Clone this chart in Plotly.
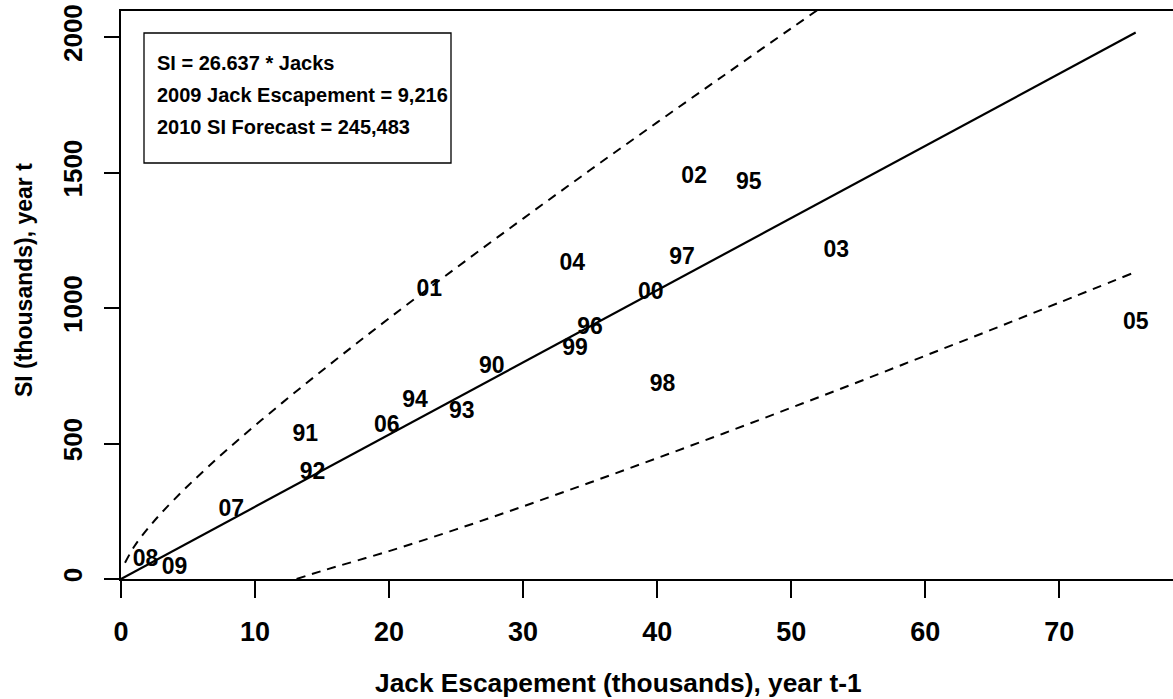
import plotly.graph_objects as go

# Jack escapement (thousands, year t-1) vs SI (thousands, year t), labelled by year t
years = ["90", "91", "92", "93", "94", "95", "96", "97", "98", "99",
         "00", "01", "02", "03", "04", "05", "06", "07", "08", "09"]
jacks = [27.66, 13.75, 14.29, 25.42, 21.94, 46.83, 34.99, 41.86, 40.40, 33.87,
         39.53, 23.00, 42.76, 53.37, 33.67, 75.70, 19.83, 8.23, 1.83, 3.99]
si = [781, 531, 392, 617, 657, 1460, 927, 1183, 716, 848,
      1054, 1066, 1484, 1208, 1161, 945, 565, 252, 70, 39]

# Regression through the origin
slope = 26.637

# Prediction-interval bounds
upper_x = [0.3, 1, 2, 3, 5, 8, 12, 16, 20, 25, 30, 35, 40, 45, 50, 53]
upper_y = [60, 121, 186, 243, 344, 481, 649, 808, 962, 1148, 1330, 1509, 1685, 1859, 2032, 2135]
lower_x = [13.1, 15, 20, 25, 30, 35, 40, 45, 50, 55, 60, 65, 70, 75.4]
lower_y = [0, 30, 103, 183, 268, 356, 446, 538, 632, 727, 824, 921, 1020, 1127]

legend_lines = ["SI = 26.637 * Jacks",
                "2009 Jack Escapement = 9,216",
                "2010 SI Forecast = 245,483"]

x_ticks = [0, 10, 20, 30, 40, 50, 60, 70]
y_ticks = [0, 500, 1000, 1500, 2000]

FONT = "Liberation Sans, Arial, Helvetica, sans-serif"


def bold(s):
    return "<b>" + s + "</b>"


fig = go.Figure()

fit_x = [0, max(jacks)]
fit_y = [slope * v for v in fit_x]
fig.add_trace(go.Scatter(x=fit_x, y=fit_y, mode="lines",
                         line=dict(color="black", width=2.2), hoverinfo="skip"))
fig.add_trace(go.Scatter(x=upper_x, y=upper_y, mode="lines",
                         line=dict(color="black", width=2, dash="9px,7px", shape="spline"),
                         hoverinfo="skip"))
fig.add_trace(go.Scatter(x=lower_x, y=lower_y, mode="lines",
                         line=dict(color="black", width=2, dash="9px,7px", shape="spline"),
                         hoverinfo="skip"))
fig.add_trace(go.Scatter(x=jacks, y=si, mode="text", text=[bold(y) for y in years],
                         textposition="middle center",
                         textfont=dict(family=FONT, size=23, color="black")))

# Legend box with the model summary
fig.add_shape(type="rect", xref="paper", yref="paper",
              x0=(144 - 121) / 1052, x1=(451 - 121) / 1052,
              y0=(579 - 163) / 568, y1=(579 - 33) / 568,
              line=dict(color="black", width=1.3), fillcolor="white", layer="above")
for i, line in enumerate(legend_lines):
    fig.add_annotation(xref="paper", yref="paper",
                       x=(155 - 121) / 1052, y=(579 - (63 + 32 * i)) / 568,
                       xanchor="left", yanchor="middle", showarrow=False,
                       text=bold(line), font=dict(family=FONT, size=20, color="black"))

# Axis titles
fig.add_annotation(xref="paper", yref="paper", x=(618 - 121) / 1052, y=(579 - 683) / 568,
                   xanchor="center", yanchor="middle", showarrow=False,
                   text=bold("Jack Escapement (thousands), year t-1"),
                   font=dict(family=FONT, size=26.3, color="black"))
fig.add_annotation(xref="paper", yref="paper", x=(24 - 121) / 1052, y=(579 - 280) / 568,
                   xanchor="center", yanchor="middle", showarrow=False, textangle=-90,
                   text=bold("SI (thousands), year t"),
                   font=dict(family=FONT, size=23, color="black"))

fig.update_layout(
    width=1173, height=699,
    margin=dict(l=121, r=0, t=11, b=120),
    paper_bgcolor="white", plot_bgcolor="white",
    showlegend=False,
    xaxis=dict(range=[0, 1052 / 13.404], tickvals=x_ticks,
               ticktext=[bold(str(v)) for v in x_ticks],
               ticks="outside", ticklen=17, tickwidth=2, tickcolor="black",
               showline=True, linecolor="black", linewidth=2, mirror=True,
               showgrid=False, zeroline=False, ticklabelstandoff=11,
               tickfont=dict(family=FONT, size=27, color="black")),
    yaxis=dict(range=[0, 568 / 0.271], tickvals=y_ticks,
               ticktext=[bold(str(v)) for v in y_ticks],
               ticks="outside", ticklen=15, tickwidth=2, tickcolor="black",
               showline=True, linecolor="black", linewidth=2, mirror=False,
               showgrid=False, zeroline=False, tickangle=-90, ticklabelstandoff=12,
               tickfont=dict(family=FONT, size=26, color="black")),
)

fig.write_html("out.html")
